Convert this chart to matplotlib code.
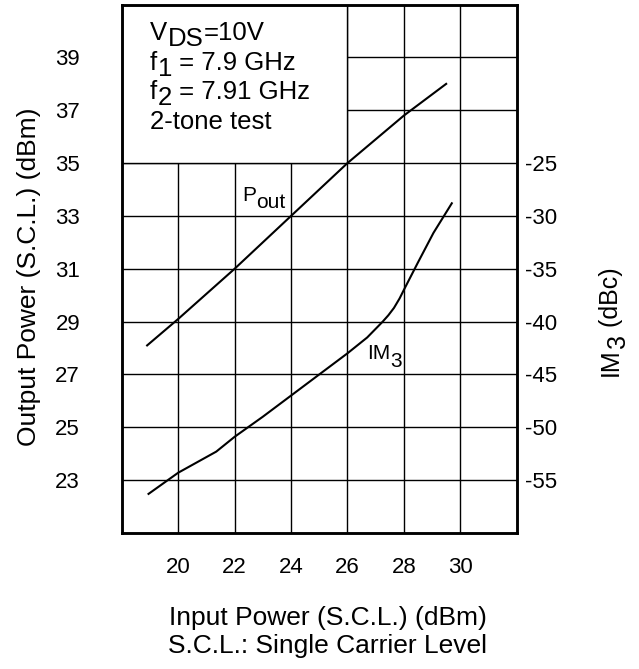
import matplotlib
matplotlib.use("Agg")
import matplotlib.pyplot as plt
from matplotlib.patches import Rectangle

plt.rcParams['font.family'] = ['Liberation Sans', 'DejaVu Sans']
plt.rcParams['axes.unicode_minus'] = False

# Pout curve (left axis, dBm)
pin_pout = [18.9, 20.0, 22.0, 24.0, 26.0, 27.0, 28.0, 29.5]
pout = [28.1, 29.1, 31.0, 33.0, 35.0, 35.9, 36.8, 38.0]

# IM3 curve (right axis, dBc)
pin_im3 = [18.95, 20.0, 21.35, 22.0, 23.0, 24.0, 25.0, 26.0, 26.7,
           27.25, 27.45, 27.65, 27.85, 28.0, 28.5, 29.05, 29.7]
im3 = [-56.3, -54.3, -52.3, -50.9, -49.0, -47.0, -45.0, -43.0, -41.5,
       -40.0, -39.4, -38.7, -37.8, -37.0, -34.4, -31.6, -28.8]

x_ticks = [20, 22, 24, 26, 28, 30]
left_ticks = [23, 25, 27, 29, 31, 33, 35, 37, 39]
right_ticks = [-55, -50, -45, -40, -35, -30, -25]

# condition box text, (text, is_subscript) pieces per line
box_lines = [[('V', False), ('DS', True), ('=10V', False)],
             [('f', False), ('1', True), (' = 7.9 GHz', False)],
             [('f', False), ('2', True), (' = 7.91 GHz', False)],
             [('2-tone test', False)]]
box_y = [39.65, 38.53, 37.43, 36.29]

fig = plt.figure(figsize=(6.39, 6.69), dpi=100)
ax = fig.add_axes([0.1905, 0.2033, 0.6181, 0.7898])
ax2 = ax.twinx()


def pieces(x, y, parts, size, drop, coords='data', rotation=0, center=False):
    # full size subscripts, just shifted down by `drop` pixels
    r = fig.canvas.get_renderer()
    gap = 0.015 * size * fig.dpi / 72
    items = []
    pos = 0.0
    for s, is_sub in parts:
        t = ax.annotate(s, (x, y), xycoords=coords, xytext=(0, 0),
                        textcoords='offset pixels', fontsize=size,
                        ha='left', va='baseline', rotation=rotation,
                        rotation_mode='anchor', annotation_clip=False, zorder=3)
        bb = t.get_window_extent(r)
        items.append((t, pos, drop if is_sub else 0))
        pos += (bb.width if rotation == 0 else bb.height) + gap
    start = -(pos - gap) / 2 if center else 0
    for t, p, d in items:
        t.xyann = (p + start, -d) if rotation == 0 else (d, p + start)


ax.set_xlim(18, 32)
ax.set_ylim(21, 41)
ax2.set_ylim(-60, -10)

ax.set_xticks(x_ticks)
ax.set_yticks(left_ticks)
ax2.set_yticks(right_ticks)

ax.set_axisbelow(True)
ax.grid(True, color='black', linewidth=1.0)

for a in (ax, ax2):
    for s in a.spines.values():
        s.set_linewidth(1.8)

ax.tick_params(axis='x', length=0, pad=17, labelsize=16)
ax.tick_params(axis='y', length=0, pad=30, labelsize=16)
ax2.tick_params(axis='y', length=0, pad=6, labelsize=16)

# white box over the upper left part of the grid
ax.add_patch(Rectangle((18, 35), 8, 6, facecolor='white', edgecolor='black',
                       linewidth=1.0, zorder=1))
for parts, yy in zip(box_lines, box_y):
    pieces(19.0, yy, parts, 18.5, 6)

ax.plot(pin_pout, pout, color='black', linewidth=1.5, zorder=2)
ax2.plot(pin_im3, im3, color='black', linewidth=1.5, zorder=2)

pieces(22.26, 33.57, [('P', False), ('out', True)], 15, 7)
pieces(26.70, 27.57, [('IM', False), ('3', True)], 15, 8)

ax.set_xlabel('Input Power (S.C.L.) (dBm)\nS.C.L.: Single Carrier Level', fontsize=19)
ax.xaxis.set_label_coords(0.521, -0.138)
ax.xaxis.label.set_va('top')
ax.set_ylabel('Output Power (S.C.L.) (dBm)', fontsize=19)
ax.yaxis.set_label_coords(-0.205, 0.485)
pieces(1.256, 0.40, [('IM', False), ('3', True), (' (dBc)', False)], 18, 7,
       coords='axes fraction', rotation=90, center=True)

fig.savefig('out.png', dpi=100)
